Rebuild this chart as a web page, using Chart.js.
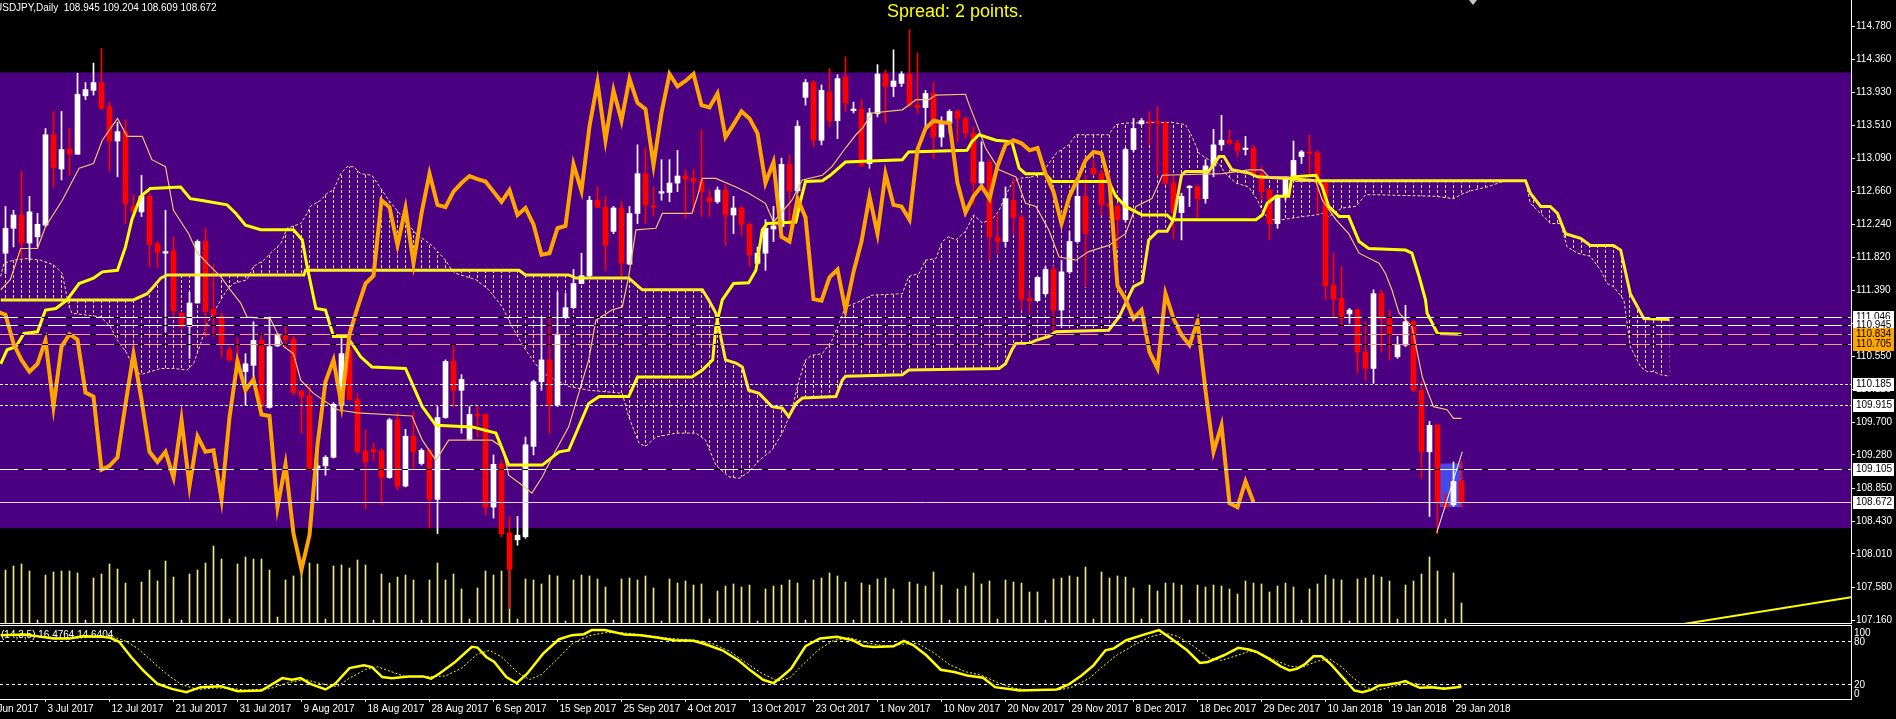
<!DOCTYPE html>
<html>
<head>
<meta charset="utf-8">
<title>USDJPY,Daily</title>
<script src="https://cdn.jsdelivr.net/npm/chart.js@4.4.1/dist/chart.umd.min.js"></script>
<style>
  html, body { margin: 0; padding: 0; background: #000; overflow: hidden; }
  #wrap { position: relative; width: 1896px; height: 719px; background: #000; }
  #main { position: absolute; left: 0; top: 0; }
  #sub { position: absolute; left: 0; top: 625px; }
</style>
</head>
<body>
<div id="wrap">
  <canvas id="main" width="1896" height="625"></canvas>
  <canvas id="sub" width="1896" height="94"></canvas>
</div>
<script>
// ---- daily bars, 27 Jun 2017 .. 30 Jan 2018 (broker has Sunday bars) ----
const opens = [
  111.87,112.19,112.36,112.00,112.08,112.23,113.39,112.95,113.21,113.14,
  113.89,113.96,114.06,113.75,113.31,113.43,112.47,112.40,112.60,111.99,
  111.87,111.90,111.10,110.93,111.23,112.02,111.15,111.06,110.63,110.51,
  110.35,110.43,110.75,109.89,110.68,110.81,110.77,110.10,110.04,109.11,
  109.14,109.25,109.92,110.63,109.99,109.33,109.35,109.33,108.99,109.73,
  108.88,109.52,109.17,109.34,108.71,109.76,110.48,110.11,109.48,109.80,
  109.80,108.61,109.16,108.28,108.19,108.23,109.39,110.22,110.50,109.92,
  111.05,111.17,111.48,111.58,112.55,112.46,112.15,112.45,111.73,112.38,
  112.89,112.48,112.64,112.65,112.77,112.86,112.83,112.80,112.59,112.53,
  112.68,112.36,112.45,112.24,111.74,111.87,112.18,112.21,113.01,112.67,
  113.87,114.06,113.32,113.94,113.57,114.13,113.70,113.72,113.02,113.66,
  114.17,114.01,114.05,114.17,113.77,113.74,113.92,113.36,113.54,113.69,
  113.60,113.41,112.77,113.04,112.07,112.02,112.55,112.33,111.29,111.26,
  111.35,111.66,111.14,111.63,112.02,112.60,112.96,112.89,112.50,112.47,
  112.30,113.20,113.53,113.56,113.56,113.54,112.77,112.39,112.71,112.72,
  112.57,112.99,113.26,113.32,113.28,113.20,113.22,112.89,112.68,112.25,
  112.60,112.82,113.11,113.17,113.16,112.77,111.46,111.29,111.09,111.14,
  110.60,110.39,111.35,111.03,110.54,110.69,110.99,110.11,109.32,109.66,
  108.68,108.64,108.945
];
const highs = [
  112.47,112.42,112.92,112.60,112.38,113.47,113.69,113.69,113.47,114.18,
  114.06,114.31,114.50,113.81,113.55,113.58,112.62,112.87,112.64,112.02,
  112.42,112.08,111.12,111.37,112.04,112.19,111.72,111.10,110.67,110.78,
  110.58,110.99,110.84,111.05,110.84,110.93,110.80,110.11,110.18,109.39,
  109.27,109.95,110.79,110.93,110.07,109.60,109.43,109.36,109.75,109.83,
  109.61,109.83,109.36,109.36,109.90,110.50,110.69,110.31,109.90,109.92,
  109.81,109.28,109.21,108.49,108.49,109.51,110.24,111.05,111.05,111.37,
  111.35,111.66,111.87,112.60,112.72,112.60,112.47,112.53,112.47,113.26,
  113.22,112.72,113.07,113.07,113.19,112.94,112.94,113.45,112.68,112.72,
  112.75,112.60,112.47,112.26,111.95,112.30,112.47,113.09,113.13,113.57,
  114.10,114.09,114.03,114.24,114.16,114.39,113.81,113.84,113.73,114.29,
  114.22,114.48,114.20,114.74,114.44,113.96,114.07,113.62,113.71,113.71,
  113.62,113.49,113.30,113.07,112.38,112.72,112.83,112.36,111.40,111.57,
  111.70,111.70,111.78,112.15,112.81,112.87,113.07,112.94,112.89,112.51,
  113.22,113.60,113.60,113.69,113.75,113.56,112.87,112.64,112.74,112.74,
  113.07,113.46,113.64,113.45,113.32,113.37,113.26,112.98,112.70,112.62,
  112.85,113.31,113.19,113.39,113.19,112.79,111.87,111.70,111.16,111.16,
  110.99,111.40,111.40,111.14,110.80,111.20,111.01,110.22,109.71,109.68,
  108.79,109.19,109.204
];
const lows = [
  111.61,111.95,111.80,111.78,111.95,112.21,112.72,112.81,112.87,113.14,
  113.84,113.90,113.71,112.92,112.85,112.25,112.34,112.34,111.70,111.68,
  110.86,111.03,110.90,110.52,111.23,110.80,110.80,110.54,110.48,110.33,
  109.92,110.18,109.88,109.88,110.67,110.65,110.05,109.56,109.08,108.70,
  109.02,109.24,109.90,109.98,109.30,108.59,109.21,108.64,108.98,108.83,
  108.87,109.11,109.15,108.34,108.27,109.75,109.90,109.56,109.47,109.51,
  108.51,108.47,108.23,107.31,108.12,108.21,109.28,110.11,109.56,109.90,
  111.03,111.16,111.48,111.57,112.45,111.65,112.12,111.57,111.72,112.25,
  112.25,112.34,112.55,112.53,112.66,112.32,112.40,112.34,112.34,112.51,
  111.97,112.12,112.10,111.70,111.72,111.65,112.02,112.10,112.21,112.64,
  113.77,113.24,113.26,113.49,113.34,113.69,113.67,112.98,112.96,113.62,
  113.54,113.88,114.01,113.75,113.67,113.49,113.09,113.24,113.41,113.30,
  113.34,112.49,112.75,111.78,111.87,111.95,112.12,111.14,111.10,111.25,
  111.33,110.86,110.93,111.61,112.00,111.44,112.87,112.36,112.34,111.95,
  112.27,113.17,113.52,113.26,112.87,112.75,112.06,112.04,112.47,112.32,
  112.51,112.85,113.19,113.26,113.11,113.13,112.87,112.55,112.04,112.19,
  112.55,112.81,113.02,112.85,112.38,111.27,111.05,110.93,110.97,110.33,
  110.24,110.20,110.60,110.50,110.52,110.67,110.09,108.98,108.49,108.27,
  108.59,108.62,108.609
];
const closes = [
  112.19,112.36,112.00,112.40,112.24,113.39,112.97,113.20,113.14,113.91,
  113.97,114.06,113.73,113.31,113.43,112.50,112.40,112.60,111.98,111.88,
  111.89,111.13,110.93,111.23,112.02,111.12,111.08,110.71,110.50,110.35,
  110.45,110.75,109.90,110.67,110.83,110.76,110.08,110.03,109.09,109.14,
  109.25,109.93,110.58,109.99,109.32,109.19,109.32,108.99,109.73,108.88,
  109.52,109.32,109.34,108.71,109.76,110.48,110.11,110.25,109.80,109.78,
  108.61,109.16,108.27,107.81,108.25,109.41,110.22,110.50,109.92,110.83,
  111.17,111.48,111.58,112.55,112.46,111.97,112.45,111.74,112.38,112.89,
  112.49,112.46,112.66,112.77,112.86,112.82,112.79,112.66,112.53,112.68,
  112.36,112.45,112.24,111.85,111.87,112.19,112.22,113.01,112.67,113.50,
  114.06,113.32,113.96,113.57,114.11,113.80,113.72,113.00,113.67,114.17,
  114.01,114.08,114.17,113.77,113.74,113.92,113.36,113.52,113.69,113.60,
  113.41,112.77,113.04,112.08,112.02,112.57,112.33,111.28,111.26,111.56,
  111.66,111.14,111.63,112.02,112.60,112.12,112.89,112.49,112.47,112.30,
  113.20,113.47,113.57,113.55,113.54,112.77,112.39,112.60,112.73,112.57,
  112.99,113.26,113.32,113.28,113.19,113.22,112.89,112.66,112.25,112.60,
  112.82,113.06,113.17,113.15,112.77,111.45,111.28,111.03,111.14,110.60,
  110.39,111.35,111.03,110.82,110.69,110.99,110.11,109.32,109.66,108.66,
  108.61,108.94,108.672
];
// tick volume, thousands
const volumes = [
  53,57,59,52,3,48,51,52,52,50, 3,45,49,59,54,40,4,41,53,42,
  62,46,3,49,53,60,77,64,4,59, 66,64,64,53,6,43,47,54,60,59,
  4,57,58,55,63,58,3,49,40,46, 48,43,3,43,60,43,49,34,4,35,
  52,48,52,53,4,44,43,39,48,47, 2,43,48,47,44,36,3,44,45,43,
  47,35,2,44,40,42,38,39,4,32, 37,39,36,38,2,34,37,38,43,40,
  3,43,45,50,47,41,3,40,38,44, 45,34,2,41,39,37,51,38,3,34,
  37,50,39,42,4,43,41,40,31,31, 3,44,45,47,46,56,4,51,45,47,
  46,35,4,38,32,40,40,38,3,38, 36,38,37,34,29,42,40,39,31,37,
  40,36,3,34,39,48,44,43,2,44, 45,48,46,42,4,38,42,49,66,52,
  4,50,20
];

// ---- Ichimoku (9,26,52) lines, vertices [bar, price] ----
const tenkanPts = [
  [-0.6,111.40],[0.6,111.53],[1.9,111.93],[4.0,111.93],[5.0,112.21],[7.1,112.55],[9.2,112.96],[11.0,113.02],
  [12.1,113.32],[14.0,113.60],[15.2,113.37],[17.1,113.37],[18.3,113.07],[20.0,112.98],[21.0,112.42],[22.9,112.12],
  [24.0,111.87],[25.6,111.70],[26.9,111.57],[28.1,111.40],[29.4,111.23],[30.2,111.05],[33.1,111.03],[34.8,110.67],
  [36.0,110.58],[36.9,110.24],[38.5,110.07],[41.5,109.86],[44.0,109.82],[50.8,109.78],[52.1,109.47],[53.8,109.21],
  [55.4,109.47],[60.8,109.47],[62.1,109.38],[62.9,109.02],[64.6,108.89],[65.8,108.79],[67.1,109.00],[68.8,109.34],
  [70.4,109.64],[72.9,110.50],[73.8,111.01],[75.8,111.14],[77.1,111.18],[77.9,111.57],[78.8,112.17],[81.3,112.19],
  [82.1,112.38],[85.8,112.38],[86.5,112.60],[87.1,112.83],[88.8,112.83],[91.3,112.72],[92.9,112.64],[95.0,112.51],
  [96.0,112.27],[98.3,112.55],[99.6,112.81],[102.1,112.87],[103.3,112.98],[105.0,113.22],[106.3,113.39],[107.1,113.47],
  [108.3,113.67],[112.1,113.71],[112.9,113.77],[113.8,113.84],[115.4,113.84],[116.3,113.90],[120.0,113.91],[120.4,113.79],
  [121.7,113.45],[122.5,113.22],[123.3,113.09],[124.2,112.94],[126.3,112.85],[127.5,112.51],[128.8,112.47],[130.4,112.17],
  [131.7,111.82],[133.8,111.78],[135.4,111.89],[137.9,111.97],[140.0,112.12],[141.3,112.47],[143.3,112.57],[144.6,112.87],
  [152.1,112.89],[155.4,112.94],[157.1,112.94],[157.9,112.85],[160.4,112.85],[161.3,112.79],[163.8,112.79],[164.6,112.55],
  [166.3,112.30],[167.9,112.12],[169.2,111.87],[171.7,111.74],[172.5,111.61],[173.3,111.40],[174.2,111.10],[175.8,110.93],
  [177.1,110.28],[177.7,110.11],[178.5,109.90],[180.2,109.86],[181.0,109.75],[182.0,109.75]
];
const kijunPts = [
  [-0.6,110.45],[0.2,110.63],[1.3,110.67],[2.3,110.84],[4.0,110.86],[5.0,111.14],[6.3,111.16],[7.7,111.27],
  [9.2,111.48],[11.0,111.55],[12.1,111.63],[14.0,111.65],[15.0,111.95],[15.8,112.30],[16.9,112.60],[18.1,112.70],
  [21.9,112.72],[23.1,112.57],[24.4,112.55],[27.7,112.49],[28.8,112.38],[30.0,112.23],[31.9,112.17],[36.0,112.17],
  [37.1,112.04],[37.7,111.70],[38.8,111.16],[40.0,111.14],[41.0,110.80],[42.7,110.80],[44.4,110.54],[45.8,110.41],
  [50.0,110.39],[52.1,109.90],[53.8,109.66],[58.3,109.64],[61.3,109.56],[62.9,109.15],[67.1,109.15],[69.2,109.32],
  [70.4,109.34],[72.9,109.94],[74.2,110.03],[77.9,110.03],[79.0,110.28],[85.8,110.28],[87.1,110.37],[88.4,110.50],
  [88.8,110.93],[89.6,111.27],[91.0,111.48],[92.9,111.49],[93.8,111.65],[94.6,112.17],[95.2,112.25],[98.8,112.27],
  [99.4,112.55],[100.0,112.79],[102.1,112.80],[103.1,112.87],[105.0,113.04],[112.1,113.07],[112.9,113.17],[120.2,113.19],
  [120.8,113.30],[121.7,113.39],[123.8,113.32],[125.8,113.30],[126.7,112.96],[127.5,112.89],[130.0,112.89],[130.8,112.79],
  [137.9,112.79],[138.8,112.60],[140.0,112.47],[142.1,112.36],[145.2,112.36],[145.8,112.30],[156.3,112.30],[157.1,112.36],
  [157.7,112.51],[158.8,112.60],[160.4,112.60],[160.8,112.85],[163.8,112.87],[164.6,112.72],[165.4,112.47],[166.7,112.34],
  [167.9,112.34],[169.2,112.02],[170.4,111.93],[175.0,111.91],[175.8,111.87],[176.7,111.57],[177.5,111.27],[177.7,111.10],
  [179.0,110.84],[182.0,110.83]
];
const spanAPts = [
  [-0.6,111.57],[-0.2,111.74],[1.0,111.78],[2.7,111.80],[4.4,111.78],[6.0,111.72],[7.1,111.61],[7.5,111.40],
  [7.9,111.20],[8.3,111.10],[9.8,111.08],[11.9,111.05],[13.1,110.93],[14.0,110.75],[15.2,110.58],[16.0,110.39],
  [16.9,110.31],[19.4,110.39],[21.0,110.39],[22.7,110.37],[23.5,110.45],[24.4,110.71],[25.2,110.97],[26.0,111.10],
  [26.9,111.27],[27.7,111.40],[28.5,111.48],[30.2,111.53],[31.0,111.70],[32.3,111.78],[33.1,111.87],[34.4,111.99],
  [35.2,112.19],[36.9,112.25],[37.7,112.38],[38.1,112.47],[39.4,112.55],[40.2,112.64],[41.0,112.68],[41.9,112.89],
  [42.7,112.98],[43.5,112.98],[44.4,112.89],[45.8,112.87],[47.9,112.55],[51.3,112.12],[53.3,111.97],[55.0,111.78],
  [55.8,111.65],[56.3,111.61],[58.8,111.53],[60.4,111.40],[62.1,111.18],[63.3,110.93],[65.0,110.63],[67.1,110.33],
  [68.8,110.24],[70.4,110.16],[72.9,110.11],[76.3,110.08],[77.1,110.07],[77.9,109.77],[79.2,109.43],[80.0,109.39],
  [81.3,109.51],[83.8,109.56],[86.3,109.56],[87.5,109.47],[88.8,109.15],[90.4,109.00],[91.7,108.98],[92.9,109.06],
  [94.2,109.21],[95.8,109.34],[97.1,109.56],[98.3,109.86],[99.2,110.24],[100.0,110.50],[100.8,110.56],[102.1,110.58],
  [103.3,110.75],[104.2,110.97],[105.0,111.18],[106.3,111.23],[107.5,111.29],[108.3,111.33],[112.1,111.35],[112.9,111.57],
  [114.2,111.61],[115.0,111.78],[116.3,111.80],[117.1,112.02],[117.9,112.08],[118.8,112.04],[120.0,112.15],[121.0,112.36],
  [122.1,112.26],[123.3,112.30],[124.2,112.42],[125.0,112.60],[125.8,112.77],[126.7,112.83],[128.3,112.85],[129.6,112.89],
  [130.4,113.02],[131.3,113.15],[132.9,113.26],[133.8,113.39],[137.9,113.39],[138.8,113.52],[140.0,113.54],[145.8,113.55],
  [147.5,113.52],[148.3,113.37],[149.2,113.15],[150.4,113.07],[151.7,113.02],[152.5,112.89],[153.8,112.77],[155.4,112.72],
  [156.5,112.55],[157.1,112.42],[157.9,112.30],[159.6,112.30],[162.1,112.34],[163.8,112.36],[164.6,112.38],[165.4,112.34],
  [167.1,112.45],[168.8,112.47],[170.0,112.62],[171.3,112.62],[178.8,112.60],[181.0,112.57],[182.3,112.64],[183.5,112.68],
  [185.2,112.72],[186.9,112.78],[187.7,112.80],[190.0,112.80],[190.6,112.51],[192.3,112.34],[193.1,112.25],[194.4,112.25],
  [195.2,111.95],[196.5,111.87],[198.1,111.83],[199.4,111.65],[200.2,111.48],[201.0,111.44],[202.3,111.27],[203.1,110.67],
  [204.4,110.41],[205.2,110.35],[206.0,110.35],[206.9,110.31],[208.0,110.29]
];
const spanBPts = [
  [-0.6,111.27],[16.0,111.27],[17.7,111.35],[18.5,111.44],[19.4,111.55],[20.2,111.59],[37.3,111.59],[37.5,111.65],
  [64.2,111.65],[65.0,111.59],[70.4,111.59],[71.3,111.55],[77.9,111.55],[79.6,111.40],[87.1,111.40],[87.9,111.27],
  [88.8,111.10],[90.0,110.50],[91.3,110.46],[92.1,110.41],[92.9,110.11],[94.2,110.07],[95.8,109.90],[97.1,109.88],
  [97.9,109.77],[98.8,109.94],[99.6,110.01],[103.8,110.03],[104.6,110.24],[105.0,110.29],[112.1,110.31],[112.9,110.37],
  [124.2,110.39],[125.0,110.45],[125.8,110.63],[126.3,110.71],[127.9,110.71],[128.8,110.75],[130.4,110.80],[131.3,110.86],
  [137.9,110.88],[139.2,111.05],[141.0,111.44],[142.1,111.50],[142.9,112.04],[144.0,112.15],[145.2,112.15],[146.0,112.30],
  [147.0,112.87],[147.5,112.92],[150.4,112.92],[151.7,113.11],[152.3,113.11],[153.3,112.94],[155.4,112.90],[156.5,112.85],
  [160.4,112.83],[163.8,112.80],[190.0,112.80],[190.6,112.64],[191.9,112.47],[193.1,112.47],[194.0,112.38],[195.0,112.12],
  [196.9,112.06],[198.1,111.97],[201.0,111.97],[201.9,111.91],[203.1,111.35],[204.8,111.03],[208.0,111.02]
];
const CHIKOU_SHIFT = 26;

// ---- Stochastic (14,3,5), vertices [bar, value] ----
const stochMainPts = [
  [-0.6,88.5],[2.4,89.4],[4.5,86.1],[6.0,83.8],[8.0,83.8],[9.6,87.1],[12.1,86.1],[13.1,84.7],[14.2,79.1],[15.7,57.8],
  [17.2,38.9],[19.0,20.0],[20.8,12.9],[22.6,8.2],[24.4,15.3],[26.9,16.7],[29.0,9.6],[32.0,10.6],[34.6,28.0],[35.8,25.7],
  [36.9,28.0],[38.1,20.0],[40.0,12.0],[41.2,20.0],[43.0,42.2],[44.8,46.0],[45.8,43.6],[47.1,29.5],[48.3,28.0],[50.4,30.4],
  [52.2,30.4],[53.2,27.1],[54.2,34.2],[56.2,50.7],[58.3,72.0],[59.0,71.0],[60.1,57.8],[61.1,50.7],[62.6,29.5],[63.9,21.0],
  [65.2,34.2],[67.2,62.5],[69.2,82.8],[70.8,88.5],[72.3,89.9],[73.3,95.6],[74.9,95.6],[77.4,89.4],[79.4,88.5],[81.4,85.2],
  [83.5,81.4],[86.0,80.5],[87.5,75.7],[89.6,67.2],[91.6,53.1],[93.1,38.9],[94.7,25.7],[96.0,21.0],[97.0,29.5],[98.2,41.3],
  [100.0,72.9],[101.8,83.8],[103.9,86.1],[105.9,81.4],[107.2,73.4],[108.5,72.0],[111.0,72.9],[112.3,80.5],[113.5,74.3],[115.1,60.2],
  [116.9,39.8],[118.6,36.5],[120.2,31.8],[122.2,28.5],[123.7,15.3],[126.8,10.6],[131.4,12.0],[132.9,19.1],[134.5,31.8],[136.0,46.0],
  [137.5,67.2],[138.5,69.6],[140.1,81.4],[142.1,88.5],[144.2,95.6],[145.7,83.8],[147.7,67.2],[149.3,49.3],[150.3,50.7],[152.3,60.2],
  [154.1,70.6],[155.4,68.2],[156.4,64.9],[157.9,55.4],[159.4,44.6],[160.5,38.9],[161.5,41.3],[162.5,48.3],[163.5,58.7],[164.5,58.7],
  [165.6,48.3],[167.1,29.5],[168.6,10.6],[169.6,8.2],[170.7,11.5],[171.7,17.6],[172.7,18.6],[174.0,21.0],[175.0,23.8],[175.8,19.1],
  [176.8,14.3],[178.3,15.3],[179.8,12.9],[181.4,15.3],[182.0,16.5]
];
const stochSignalPts = [
  [-0.6,89],[3,89],[6,85],[9,84],[11,86],[13.5,86],[15,80],[16.5,70],[18,55],[20,35],
  [22,19],[24,12],[26,14],[28,14],[30,11],[33,13],[35.5,22],[37.5,26],[39.5,20],[41.5,16],
  [43,28],[45,40],[46.5,44],[48.5,36],[50,30],[53,30],[55,31],[57,42],[59,62],[60.5,67],
  [62,58],[64,36],[65.5,26],[67,33],[69,55],[71,78],[73,88],[75,92],[77,92],[79.5,89],
  [83,84],[86.5,81],[88.5,76],[90.5,66],[92.5,50],[94.5,35],[96.5,24],[98,28],[99.5,45],[101.5,67],
  [103.5,81],[105.5,85],[107.5,78],[110,73],[112.5,76],[114,77],[116,64],[118,47],[120,37],[122,32],
  [124,22],[126,14],[128,11],[132,12],[133.5,16],[135.5,28],[137,43],[139,61],[141,74],[143,86],
  [145,91],[146.5,87],[148.5,73],[150.5,56],[152,53],[154,60],[155.5,66],[157,62],[158.5,54],[160.5,45],
  [162,43],[164,52],[165.5,55],[167,44],[168.5,28],[170,15],[171.5,11],[173,15],[174.5,19],[176,21],
  [177.5,18],[179,15],[181,14],[182,14.6]
];
const stochLevels = [80, 20];

// ---- axes ----
const priceTicks = [114.780,114.360,113.930,113.510,113.090,112.660,112.240,111.820,111.390,110.970,
                    110.550,110.120,109.700,109.280,108.850,108.430,108.010,107.580,107.160];
const dateTickBars = [-3,5,13,21,29,37,45,53,61,69,77,85,93,101,109,117,125,133,141,149,157,165,173,181];
const dateTickLabels = ['23 Jun 2017','3 Jul 2017','12 Jul 2017','21 Jul 2017','31 Jul 2017','9 Aug 2017',
  '18 Aug 2017','28 Aug 2017','6 Sep 2017','15 Sep 2017','25 Sep 2017','4 Oct 2017','13 Oct 2017',
  '23 Oct 2017','1 Nov 2017','10 Nov 2017','20 Nov 2017','29 Nov 2017','8 Dec 2017','18 Dec 2017',
  '29 Dec 2017','10 Jan 2018','19 Jan 2018','29 Jan 2018'];

// ---- chart objects ----
const levelPrices = [111.046, 110.945, 110.834, 110.705, 110.185, 109.915, 109.105, 108.672];
const zonePrices = [114.19, 108.34];          // purple rectangle
const boxBars = [179.3, 182.1];               // small blue rectangle
const boxPrices = [109.17, 108.61];
const trendPts = [[200, 106.95], [232, 107.475]];
const diagPts = [[178.9, 108.28], [182.1, 109.32]];
const SHIFT_BAR = 183.4;
const titleText = 'USDJPY,Daily  108.945 109.204 108.609 108.672';
const spreadText = 'Spread: 2 points.';
const stochTitle = '(14,3,5) 16.4764 14.6404';

// view window in bars (8 px per bar)
const X_MIN = -0.6875, X_MAX = 230.6875;
const P_MIN = 107.1226, P_MAX = 115.1199;

const FONT = '"Liberation Sans", Arial, sans-serif';
const HATCH_COLOR = 'rgb(245,222,140)';
const levelStyles = [
  { color: '#ffffff', dash: [18, 6], gap: '#000' },
  { color: '#ffffff', dash: [18, 6], gap: '#000' },
  { color: '#f5a080', dash: [18, 6], gap: '#000' },
  { color: '#f5a080', dash: [18, 6], gap: '#000' },
  { color: '#ffffff', dash: [3, 2] },
  { color: '#ffffff', dash: [3, 2] },
  { color: '#ffffff', dash: [18, 6], gap: '#000' },
  { color: '#ddd4ff', dash: [] }
];
const levelBoxFill = ['#fff', '#fff', '#ffa500', '#ffa500', '#fff', '#fff', '#fff', '#fff'];

const pts = arr => arr.map(([x, y]) => ({ x, y }));
const candleColor = ctx => closes[ctx.dataIndex] >= opens[ctx.dataIndex] ? '#ffffff' : '#ff0000';

function makeHatch(ctx) {
  const c = document.createElement('canvas');
  c.width = 8; c.height = 5;
  const g = c.getContext('2d');
  g.fillStyle = HATCH_COLOR;
  g.fillRect(5, 0, 1, 3);
  return ctx.createPattern(c, 'repeat');
}

function hLine(ctx, x0, x1, y) {
  ctx.beginPath(); ctx.moveTo(x0, y); ctx.lineTo(x1, y); ctx.stroke();
}

const mainDecor = {
  id: 'mainDecor',
  beforeDraw(chart) {
    const { ctx, width, height } = chart;
    ctx.save();
    ctx.fillStyle = '#000';
    ctx.fillRect(0, 0, width, height);
    ctx.restore();
  },
  beforeDatasetsDraw(chart) {
    const { ctx, chartArea: a, scales: { x, y } } = chart;
    ctx.save();
    const t = y.getPixelForValue(zonePrices[0]), b = y.getPixelForValue(zonePrices[1]);
    ctx.fillStyle = '#4b0082';
    ctx.fillRect(a.left, t, a.right - a.left, b - t);
    const bx0 = x.getPixelForValue(boxBars[0]), bx1 = x.getPixelForValue(boxBars[1]);
    const by0 = y.getPixelForValue(boxPrices[0]), by1 = y.getPixelForValue(boxPrices[1]);
    ctx.fillStyle = '#4848e8';
    ctx.fillRect(bx0, by0, bx1 - bx0, by1 - by0);
    ctx.restore();
  },
  afterDatasetsDraw(chart) {
    const { ctx, chartArea: a, scales: { y } } = chart;
    ctx.save();
    ctx.lineWidth = 1;
    levelPrices.forEach((p, i) => {
      const st = levelStyles[i];
      const yy = Math.round(y.getPixelForValue(p)) + 0.5;
      if (st.gap) {
        ctx.setLineDash([]);
        ctx.strokeStyle = st.gap;
        hLine(ctx, a.left, a.right, yy);
      }
      ctx.setLineDash(st.dash);
      ctx.strokeStyle = st.color;
      hLine(ctx, a.left, a.right, yy);
    });
    ctx.restore();
  },
  afterDraw(chart) {
    const { ctx, chartArea: a, scales: { x, y }, width } = chart;
    ctx.save();
    // main window bottom border
    ctx.strokeStyle = '#fff';
    ctx.lineWidth = 1;
    hLine(ctx, 0, a.right + 1, a.bottom + 0.5);
    // price marks on the axis
    ctx.font = '10px ' + FONT;
    ctx.textBaseline = 'middle';
    ctx.textAlign = 'left';
    levelPrices.forEach((p, i) => {
      const yy = Math.round(y.getPixelForValue(p));
      ctx.fillStyle = levelBoxFill[i];
      ctx.fillRect(a.right + 2, yy - 6, width - a.right - 4, 13);
      ctx.fillStyle = '#000';
      ctx.fillText(p.toFixed(3), a.right + 5, yy + 0.5);
    });
    // header texts
    ctx.fillStyle = '#fff';
    ctx.fillText(titleText, -5, 8);
    ctx.font = '18px ' + FONT;
    ctx.fillStyle = '#ffff00';
    ctx.textAlign = 'center';
    ctx.fillText(spreadText, 955, 12);
    // chart shift marker
    const sx = Math.round(x.getPixelForValue(SHIFT_BAR));
    ctx.fillStyle = '#c8c8c8';
    ctx.beginPath();
    ctx.moveTo(sx - 4, 0); ctx.lineTo(sx + 4, 0); ctx.lineTo(sx, 5); ctx.closePath();
    ctx.fill();
    ctx.restore();
  }
};

const mainCtx = document.getElementById('main').getContext('2d');
const hatch = makeHatch(mainCtx);
const bars = closes.map((c, i) => i);

const mainChart = new Chart(mainCtx, {
  type: 'bar',
  data: {
    datasets: [
      { type: 'line', data: pts(trendPts), borderColor: '#ffff00', borderWidth: 2, pointRadius: 0, order: 0 },
      { type: 'line', data: pts(diagPts), borderColor: '#ffffff', borderWidth: 1, pointRadius: 0, order: 0 },
      { type: 'line', label: 'Chikou', data: closes.map((c, i) => ({ x: i - CHIKOU_SHIFT, y: c })),
        borderColor: '#ffa500', borderWidth: 4, pointRadius: 0, order: 1 },
      { type: 'line', label: 'Kijun', data: pts(kijunPts), borderColor: '#ffff00', borderWidth: 3, pointRadius: 0, order: 2 },
      { type: 'line', label: 'Tenkan', data: pts(tenkanPts), borderColor: '#f2c46a', borderWidth: 1.2, pointRadius: 0, order: 3 },
      { type: 'line', label: 'SpanB', data: pts(spanBPts), borderColor: '#ffee20', borderWidth: 3, pointRadius: 0, order: 4 },
      { type: 'bar', label: 'body', data: bars.map(i => ({ x: i, y: [opens[i], closes[i]] })),
        backgroundColor: candleColor, barThickness: 5, minBarLength: 1, grouped: false, borderWidth: 0, order: 5 },
      { type: 'bar', label: 'wick', data: bars.map(i => ({ x: i, y: [lows[i], highs[i]] })),
        backgroundColor: candleColor, barThickness: 1, grouped: false, borderWidth: 0, order: 6 },
      { type: 'line', label: 'SpanA', data: pts(spanAPts), borderColor: HATCH_COLOR, borderWidth: 1, borderDash: [3, 2],
        pointRadius: 0, backgroundColor: hatch, fill: { target: 5, above: hatch, below: hatch }, order: 7 },
      { type: 'bar', label: 'volume', yAxisID: 'yv', data: bars.map(i => ({ x: i, y: volumes[i] })),
        backgroundColor: '#f0e68c', barThickness: 1, grouped: false, borderWidth: 0, order: 8 }
    ]
  },
  options: {
    animation: false,
    responsive: false,
    devicePixelRatio: 1,
    events: [],
    layout: { padding: { top: 0, left: 0, right: 0, bottom: 2 }, autoPadding: false },
    plugins: { legend: { display: false }, tooltip: { enabled: false } },
    elements: { line: { tension: 0 } },
    scales: {
      x: { type: 'linear', min: X_MIN, max: X_MAX, offset: false, display: false, grid: { offset: false } },
      y: {
        type: 'linear', position: 'right', min: P_MIN, max: P_MAX,
        afterBuildTicks: s => { s.ticks = priceTicks.map(v => ({ value: v })); },
        afterFit: s => { s.width = 45; s.paddingTop = 0; s.paddingBottom = 0; },
        ticks: { color: '#fff', font: { family: FONT, size: 10 }, padding: 1, autoSkip: false,
                 callback: v => v.toFixed(3) },
        grid: { drawOnChartArea: false, drawTicks: true, tickLength: 4, color: '#fff' },
        border: { display: true, color: '#fff', width: 1 }
      },
      yv: { type: 'linear', position: 'left', display: false, min: 0, max: 623 }
    }
  },
  plugins: [mainDecor]
});

const subDecor = {
  id: 'subDecor',
  beforeDraw(chart) {
    const { ctx, width, height } = chart;
    ctx.save();
    ctx.fillStyle = '#000';
    ctx.fillRect(0, 0, width, height);
    ctx.restore();
  },
  beforeDatasetsDraw(chart) {
    const { ctx, chartArea: a, scales: { y } } = chart;
    ctx.save();
    ctx.strokeStyle = '#ffffff';
    ctx.lineWidth = 1;
    ctx.setLineDash([3, 3]);
    stochLevels.forEach(v => hLine(ctx, a.left, a.right, Math.round(y.getPixelForValue(v)) + 0.5));
    ctx.setLineDash([]);
    ctx.font = '10px ' + FONT;
    ctx.fillStyle = '#fff';
    ctx.textBaseline = 'middle';
    ctx.fillText(stochTitle, 1, 10);
    ctx.restore();
  },
  afterDraw(chart) {
    const { ctx, chartArea: a, scales: { y } } = chart;
    ctx.save();
    ctx.strokeStyle = '#fff';
    ctx.lineWidth = 1;
    hLine(ctx, 0, a.right + 1, 0.5);
    hLine(ctx, 0, a.right + 1, a.bottom + 0.5);
    ctx.beginPath(); ctx.moveTo(a.right + 0.5, 0); ctx.lineTo(a.right + 0.5, a.bottom + 1); ctx.stroke();
    ctx.font = '10px ' + FONT;
    ctx.fillStyle = '#fff';
    ctx.textAlign = 'left';
    const lx = a.right + 3;
    ctx.textBaseline = 'top';    ctx.fillText('100', lx, y.getPixelForValue(100) + 1);
    ctx.textBaseline = 'middle'; ctx.fillText('80', lx, y.getPixelForValue(80) + 1);
    ctx.fillText('20', lx, y.getPixelForValue(20) + 1);
    ctx.textBaseline = 'bottom'; ctx.fillText('0', lx, y.getPixelForValue(0) + 1);
    ctx.restore();
  }
};

const subChart = new Chart(document.getElementById('sub').getContext('2d'), {
  type: 'line',
  data: {
    datasets: [
      { label: 'Main', data: pts(stochMainPts), borderColor: '#ffff00', borderWidth: 2.5, pointRadius: 0, order: 0 },
      { label: 'Signal', data: pts(stochSignalPts), borderColor: '#ffff00', borderWidth: 1, borderDash: [2, 2], pointRadius: 0, order: 1 }
    ]
  },
  options: {
    animation: false,
    responsive: false,
    devicePixelRatio: 1,
    events: [],
    layout: { padding: { top: 1, left: 0, right: 0, bottom: 0 }, autoPadding: false },
    plugins: { legend: { display: false }, tooltip: { enabled: false } },
    elements: { line: { tension: 0 } },
    scales: {
      x: {
        type: 'linear', position: 'bottom', min: X_MIN, max: X_MAX, offset: false,
        afterBuildTicks: s => { s.ticks = dateTickBars.map(v => ({ value: v })); },
        afterFit: s => { s.height = 20; s.paddingLeft = 0; s.paddingRight = 0; },
        ticks: { color: '#fff', font: { family: FONT, size: 10 }, autoSkip: false, maxRotation: 0, minRotation: 0,
                 align: 'start', labelOffset: 2, padding: 1,
                 callback: (v, i) => dateTickLabels[i] },
        grid: { drawOnChartArea: false, drawTicks: true, tickLength: 3, color: '#fff' },
        border: { display: false }
      },
      y: {
        type: 'linear', position: 'right', min: -1.4, max: 101.4,
        afterFit: s => { s.width = 45; s.paddingTop = 0; s.paddingBottom = 0; },
        ticks: { display: false }, grid: { display: false }, border: { display: false }
      }
    }
  },
  plugins: [subDecor]
});
</script>
</body>
</html>
